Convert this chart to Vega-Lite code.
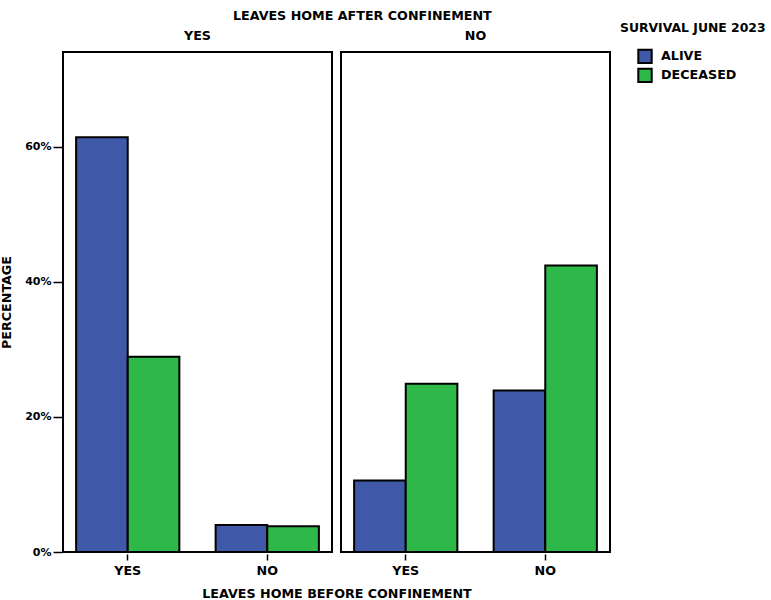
{
  "$schema": "https://vega.github.io/schema/vega-lite/v6.json",
  "padding": {"left": 0, "top": 10, "right": 0, "bottom": 0},
  "background": "white",
  "data": {"values": [
    {"after": "YES", "before": "YES", "survival": "ALIVE", "pct": 61.4},
    {"after": "YES", "before": "YES", "survival": "DECEASED", "pct": 28.9},
    {"after": "YES", "before": "NO", "survival": "ALIVE", "pct": 4.0},
    {"after": "YES", "before": "NO", "survival": "DECEASED", "pct": 3.8},
    {"after": "NO", "before": "YES", "survival": "ALIVE", "pct": 10.6},
    {"after": "NO", "before": "YES", "survival": "DECEASED", "pct": 24.9},
    {"after": "NO", "before": "NO", "survival": "ALIVE", "pct": 23.9},
    {"after": "NO", "before": "NO", "survival": "DECEASED", "pct": 42.4}
  ]},
  "title": {"text": "LEAVES HOME AFTER CONFINEMENT", "anchor": "middle", "fontSize": 12.7, "font": "DejaVu Sans", "fontWeight": "bold", "color": "black", "offset": -1, "dx": -21},
  "facet": {
    "column": {"field": "after", "type": "nominal", "sort": ["YES", "NO"],
      "header": {"title": "LEAVES HOME BEFORE CONFINEMENT", "titleOrient": "bottom", "labelOrient": "top", "titleFont": "DejaVu Sans", "titleFontSize": 12.7, "titleFontWeight": "bold", "titleColor": "black", "titlePadding": 1,
        "labelFont": "DejaVu Sans", "labelFontSize": 12.7, "labelFontWeight": "bold", "labelColor": "black", "labelPadding": 8}}
  },
  "spacing": 7,
  "spec": {
    "width": 269,
    "height": 500,
    "mark": {"type": "bar", "stroke": "black", "strokeWidth": 2},
    "encoding": {
      "x": {"field": "before", "type": "nominal", "sort": ["YES", "NO"],
        "scale": {"paddingInner": 0.26, "paddingOuter": 0.094},
        "axis": {"title": null, "labelAngle": 0, "labelFont": "DejaVu Sans", "labelFontSize": 12.7, "labelFontWeight": "bold", "labelColor": "black", "labelPadding": 4, "domain": false, "ticks": true, "tickColor": "black", "tickSize": 6, "tickWidth": 1.5, "tickBand": "center"}},
      "xOffset": {"field": "survival", "type": "nominal", "sort": ["ALIVE", "DECEASED"], "scale": {"paddingInner": 0, "paddingOuter": 0}},
      "y": {"field": "pct", "type": "quantitative", "scale": {"domain": [0, 74], "nice": false},
        "axis": {"title": "PERCENTAGE", "values": [0, 20, 40, 60], "labelExpr": "datum.value + '%'", "grid": false, "domain": false,
          "titleFont": "DejaVu Sans", "titleFontSize": 12.7, "titleFontWeight": "bold", "titleColor": "black", "titlePadding": 11,
          "labelFont": "DejaVu Sans", "labelFontSize": 11, "labelFontWeight": "bold", "labelColor": "black", "labelPadding": 2, "tickColor": "black", "tickSize": 9, "tickWidth": 1.5}},
      "color": {"field": "survival", "type": "nominal", "sort": ["ALIVE", "DECEASED"],
        "scale": {"domain": ["ALIVE", "DECEASED"], "range": ["#3F58A8", "#2EB84A"]},
        "legend": {"title": "SURVIVAL JUNE 2023", "orient": "none", "legendX": 557, "legendY": -30, "symbolType": "square", "symbolSize": 180, "symbolStrokeColor": "black", "symbolStrokeWidth": 2,
          "titleFont": "DejaVu Sans", "titleFontSize": 12.4, "titleFontWeight": "bold", "titleColor": "black", "titlePadding": 14,
          "labelFont": "DejaVu Sans", "labelFontSize": 12.7, "labelFontWeight": "bold", "labelColor": "black", "rowPadding": -11, "labelOffset": 8, "padding": 0}}
    }
  },
  "config": {
    "view": {"stroke": "black", "strokeWidth": 2},
    "legend": {"symbolOffset": 17}
  }
}
